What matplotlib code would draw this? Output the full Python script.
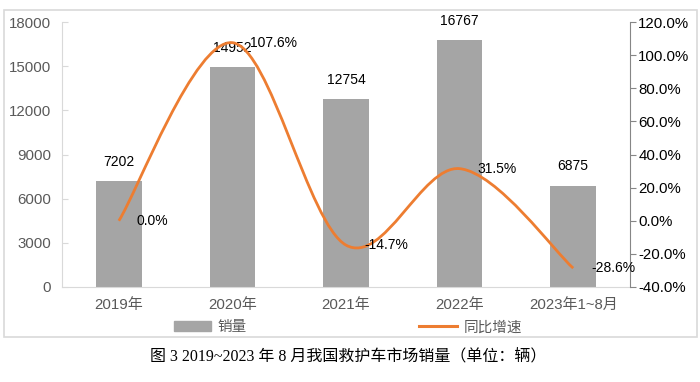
import numpy as np
import matplotlib
matplotlib.use("Agg")
import matplotlib.pyplot as plt
from matplotlib.path import Path
from matplotlib.patches import PathPatch, Rectangle
from matplotlib.lines import Line2D

plt.rcParams['font.family'] = ['Liberation Sans', 'Noto Sans CJK SC', 'DejaVu Sans']

years = ["2019年", "2020年", "2021年", "2022年", "2023年1~8月"]
sales = [7202, 14952, 12754, 16767, 6875]
growth = [0.0, 107.6, -14.7, 31.5, -28.6]
caption = "图 3 2019~2023 年 8 月我国救护车市场销量（单位：辆）"

bar_color = "#a5a5a5"
line_color = "#ed7d31"
tick_color = "#595959"

fig = plt.figure(figsize=(7, 3.82), dpi=100)
ax = fig.add_axes([0.0886, 0.2487, 0.8114, 0.6933])
ax2 = ax.twinx()

x = np.arange(len(years))
bars = ax.bar(x, sales, width=0.4, color=bar_color, zorder=2)
ax.set_xlim(-0.5, len(years) - 0.5)
ax.set_ylim(0, 18000)
ax.set_yticks(np.arange(0, 18001, 3000))
ax.set_xticks(x)
ax.set_xticklabels(years)
for xi, v in zip(x, sales):
    ax.annotate(str(v), (xi, v), xytext=(0, 9), textcoords="offset points",
                ha="center", va="bottom", fontsize=10, color="black", zorder=5)

# smoothed line (Excel-style bezier) built from the data points
pts = np.column_stack([x, growth]).astype(float)
ext = np.vstack([pts[0], pts, pts[-1]])
verts = [tuple(pts[0])]
codes = [Path.MOVETO]
for i in range(len(pts) - 1):
    p0, p1, p2, p3 = ext[i], ext[i + 1], ext[i + 2], ext[i + 3]
    c1 = p1 + (p2 - p0) / 6
    c2 = p2 - (p3 - p1) / 6
    verts += [tuple(c1), tuple(c2), tuple(p2)]
    codes += [Path.CURVE4] * 3
ax2.add_patch(PathPatch(Path(verts, codes), fill=False, edgecolor=line_color,
                        lw=2.0, capstyle="butt", zorder=3))
ax2.set_ylim(-40, 120)
ax2.set_yticks(np.arange(-40, 121, 20))
ax2.set_yticklabels([f"{t:.1f}%" for t in np.arange(-40, 121, 20)])
for xi, g in zip(x, growth):
    ax2.annotate(f"{g:.1f}%", (xi, g), xytext=(13, 0), textcoords="offset points",
                 ha="left", va="center", fontsize=10, color="black", zorder=5)

for a in (ax, ax2):
    for s in a.spines.values():
        s.set_visible(False)
ax.spines["left"].set_visible(True)
ax.spines["left"].set_color("#d9d9d9")
ax.spines["bottom"].set_visible(True)
ax.spines["bottom"].set_color("#d9d9d9")
ax2.spines["right"].set_visible(True)
ax2.spines["right"].set_color("#868686")

ax.tick_params(axis="y", direction="in", length=4, color="#d9d9d9",
               labelsize=10.8, labelcolor=tick_color, pad=8)
ax.tick_params(axis="x", length=0, labelsize=10.8, labelcolor=tick_color, pad=8)
ax2.tick_params(axis="y", direction="out", length=4, color="#868686",
                labelsize=10.8, labelcolor="black", pad=2)

handles = [Rectangle((0, 0), 1, 1, color=bar_color),
           Line2D([0], [0], color=line_color, lw=2.2)]
fig.legend(handles, ["销量", "同比增速"], loc="center", bbox_to_anchor=(0.497, 0.143),
           ncol=2, frameon=False, fontsize=10.5, labelcolor=tick_color,
           columnspacing=11.8, handlelength=2.6, handleheight=0.7, handletextpad=0.45)

fig.add_artist(Rectangle((0.0057, 0.118), 0.99, 0.856, transform=fig.transFigure,
                         fill=False, edgecolor="#d9d9d9", lw=1.2))
fig.text(0.497, 0.066, caption, ha="center", va="center", fontsize=11.5,
         family=["Liberation Serif", "Noto Sans CJK SC", "DejaVu Sans"])

fig.savefig("out.png", dpi=100, facecolor="white")
